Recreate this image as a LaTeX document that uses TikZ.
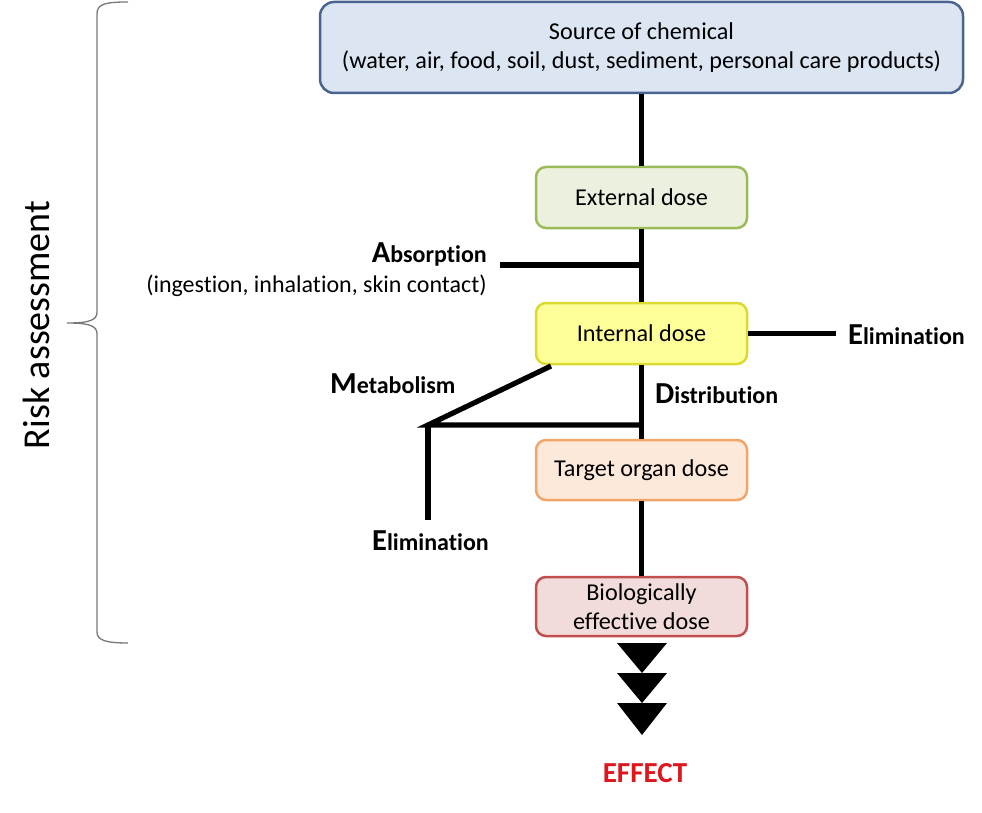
\documentclass[tikz,border=0pt]{standalone}
\usepackage{fontspec}
\setmainfont[Ligatures=NoCommon]{Carlito}
\definecolor{topfill}{RGB}{220,230,242}
\definecolor{topdraw}{RGB}{74,100,145}
\definecolor{extfill}{RGB}{235,241,222}
\definecolor{extdraw}{RGB}{155,187,89}
\definecolor{intfill}{RGB}{255,255,153}
\definecolor{intdraw}{RGB}{218,218,48}
\definecolor{tgtfill}{RGB}{253,233,217}
\definecolor{tgtdraw}{RGB}{242,165,105}
\definecolor{biofill}{RGB}{242,220,219}
\definecolor{biodraw}{RGB}{192,80,77}
\definecolor{effred}{RGB}{222,22,30}
\definecolor{bracegray}{RGB}{120,120,120}
\newcommand{\boxfont}{\fontsize{24.2}{29}\selectfont}
\newcommand{\biglab}[2]{\bfseries{\fontsize{30.5}{30}\selectfont #1}{\fontsize{24}{28}\selectfont #2}}
\tikzset{
  dosebox/.style={draw, line width=2.5pt, rounded corners=10pt, minimum width=211pt, align=center, inner sep=0pt, font=\boxfont},
  conn/.style={line width=5.2pt},
  lab/.style={inner sep=0pt}
}
\begin{document}
\begin{tikzpicture}[x=1pt,y=-1pt]
\useasboundingbox (0,0) rectangle (982,813);
% boxes
\node[dosebox, fill=topfill, draw=topdraw, minimum width=643pt, minimum height=91pt, rounded corners=14pt] (top) at (641.5,47.5) {Source of chemical\\(water, air, food, soil, dust, sediment, personal care products)};
\node[dosebox, fill=extfill, draw=extdraw, minimum height=61pt] (ext) at (641.5,197.5) {External dose};
\node[dosebox, fill=intfill, draw=intdraw, minimum height=61pt] (int) at (641.5,333.5) {Internal dose};
\node[dosebox, fill=tgtfill, draw=tgtdraw, minimum height=60pt] (tgt) at (641.5,470) {Target organ dose};
\node[dosebox, fill=biofill, draw=biodraw, minimum height=59pt] (bio) at (641.5,606.5) {Biologically\\effective dose};
% coordinates
\coordinate (absJ) at (641.5,265);
\coordinate (absL) at (500,265);
\coordinate (elimR) at (836,333.5);
\coordinate (metS) at (551,366);
\coordinate (metJ) at (428,425);
\coordinate (distJ) at (641.5,425);
\coordinate (elimL) at (428,520);
% connectors
\draw[conn] (top.south) -- (ext.north);
\draw[conn] (ext.south) -- (int.north);
\draw[conn] (absL) -- (absJ);
\draw[conn] (int.east) -- (elimR);
\draw[conn] (int.south) -- (tgt.north);
\draw[conn, line join=miter] (metS) -- (metJ) -- (distJ);
\draw[conn] (metJ) -- (elimL);
\draw[conn] (tgt.south) -- (bio.north);
% labels
\node[lab, anchor=base east] (absorb) at (487,262) {\biglab{A}{bsorption}};
\node[lab, anchor=base east] (route) at (487,292) {\fontsize{24}{28}\selectfont (ingestion, inhalation, skin contact)};
\node[lab, anchor=base west] (elimRl) at (848,344) {\biglab{E}{limination}};
\node[lab, anchor=base west] (metab) at (330,393) {\biglab{M}{etabolism}};
\node[lab, anchor=base west] (distr) at (655,403) {\biglab{D}{istribution}};
\node[lab, anchor=base west] (elimLl) at (372,550) {\biglab{E}{limination}};
\node[lab, anchor=base, text=effred, font=\bfseries\fontsize{29}{30}\selectfont] (effect) at (645,782) {EFFECT};
\node[lab, rotate=90, font=\fontsize{38}{40}\selectfont] (risk) at (36,325) {Risk assessment};
% triangles
\fill (617,643) -- (667,643) -- (642,673) -- cycle;
\fill (617,673) -- (667,673) -- (642,703) -- cycle;
\fill (617,703) -- (667,703) -- (642,735) -- cycle;
% brace
\draw[bracegray, line width=1.3pt] (128,2) .. controls (105,2) and (97,4) .. (97,14) -- (97,312) .. controls (97,320) and (90,323) .. (67,323) .. controls (90,323) and (97,326) .. (97,334) -- (97,632) .. controls (97,640) and (105,643) .. (128,643);
\end{tikzpicture}
\end{document}
